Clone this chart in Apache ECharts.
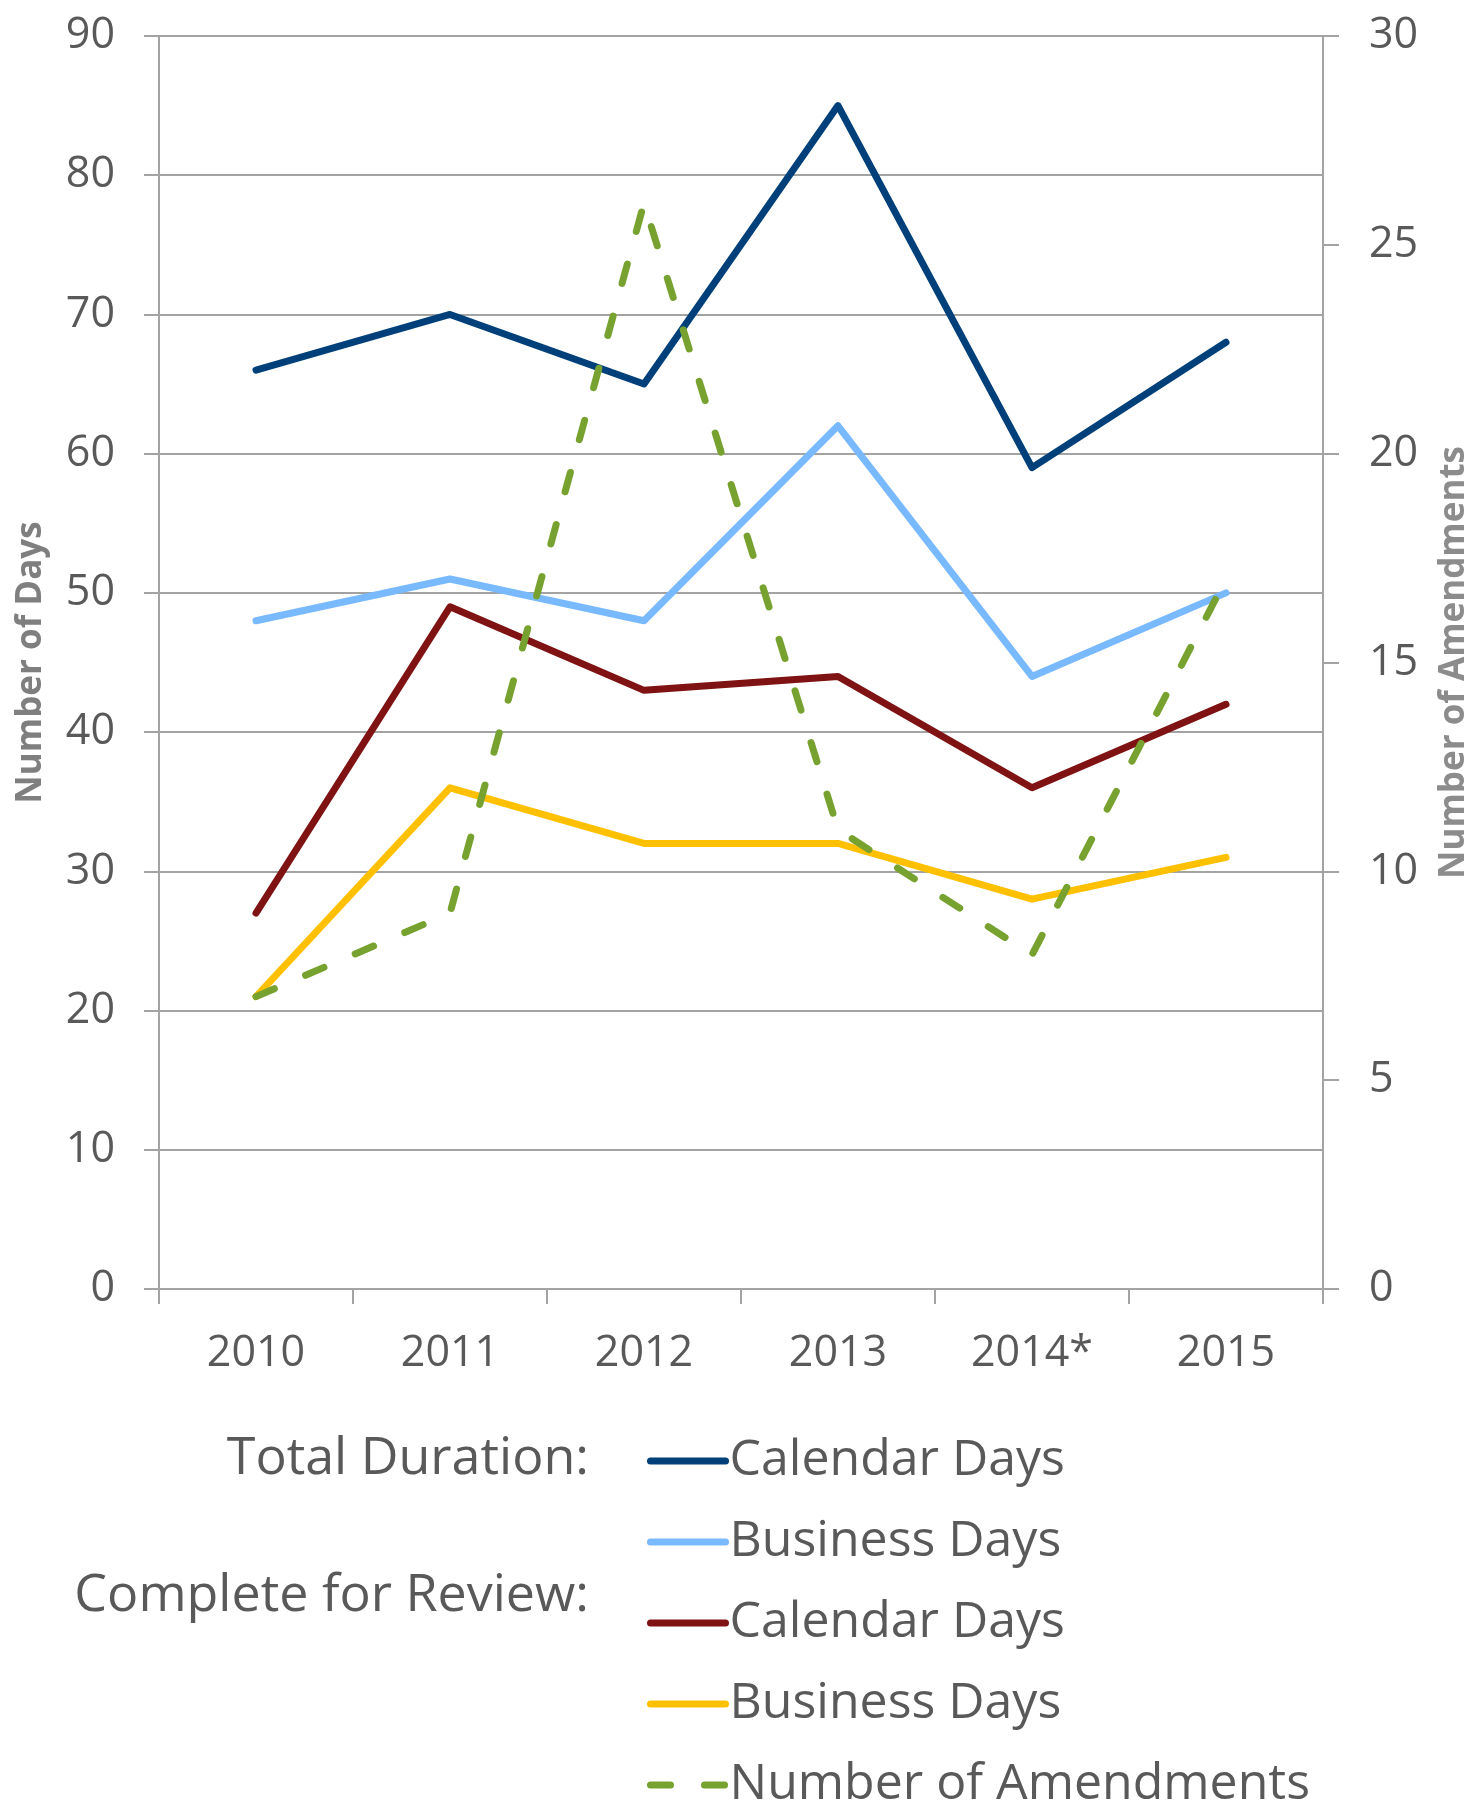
<!DOCTYPE html>
<head>
    <meta charset="utf-8"/>
    <style>
        html,body { height:100%; width:100%; margin:0; padding:0; background:#fff; }
    </style>
</head>
<body>

<div id="line" style="width: 1476px;height:1804px;"></div>

<script src="https://cdn.jsdelivr.net/npm/echarts@6/dist/echarts.min.js"></script>
<script type="text/javascript">

// data
var years = ['2010', '2011', '2012', '2013', '2014*', '2015'];
var totalCalendar = [66, 70, 65, 85, 59, 68];
var totalBusiness = [48, 51, 48, 62, 44, 50];
var reviewCalendar = [27, 49, 43, 44, 36, 42];
var reviewBusiness = [21, 36, 32, 32, 28, 31];
var amendments = [7, 9, 26, 11, 8, 17];

// series keys + the text shown in the legend
var seriesNames = ['tdCal', 'tdBus', 'crCal', 'crBus', 'amend'];
var legendLabels = ['Calendar Days', 'Business Days', 'Calendar Days', 'Business Days', 'Number of Amendments'];
var groupLabels = ['Total Duration:', 'Complete for Review:'];

var colors = ['#00407a', '#78b9ff', '#7f1212', '#ffc000', '#77a22f'];

var font = '"Open Sans", sans-serif';
var gridColor = '#a3a3a3';
var labelColor = '#595959';

function mkLine(i, data, axisIdx, dashed) {
    return {
        name: seriesNames[i],
        type: 'line',
        yAxisIndex: axisIdx,
        data: data,
        symbol: 'none',
        lineStyle: {
            color: colors[i],
            width: 7,
            cap: 'round',
            join: 'round',
            type: dashed ? [20, 34] : 'solid'
        },
        itemStyle: { color: colors[i] }
    };
}

// one legend per row so the last one is not wrapped into a second column
function mkLegend(i) {
    return {
        orient: 'vertical',
        left: 642,
        top: 1426 + i * 81,
        itemWidth: 75,
        itemHeight: 20,
        selectedMode: false,
        data: [seriesNames[i]],
        itemStyle: { opacity: 0 },
        lineStyle: { width: 7, cap: 'round' },
        formatter: function (name) {
            return legendLabels[seriesNames.indexOf(name)];
        },
        textStyle: {
            fontFamily: font,
            fontSize: 50,
            lineHeight: 60,
            color: labelColor,
            padding: [0, 0, 0, -1]
        }
    };
}

var chart = echarts.init(document.getElementById('line'));

var options = {
    animation: false,
    textStyle: { fontFamily: font },
    grid: {
        left: 159,
        right: 153,
        top: 36,
        bottom: 515,
        outerBoundsMode: 'none'
    },
    legend: [0, 1, 2, 3, 4].map(mkLegend),
    graphic: [
        {
            type: 'text', right: 1476 - 589, top: 1433,
            style: { text: groupLabels[0], font: '52px ' + font, fill: labelColor, textAlign: 'right' }
        },
        {
            type: 'text', right: 1476 - 589, top: 1570,
            style: { text: groupLabels[1], font: '52px ' + font, fill: labelColor, textAlign: 'right' }
        }
    ],
    xAxis: {
        type: 'category',
        data: years,
        boundaryGap: true,
        axisLine: { lineStyle: { color: gridColor, width: 2 } },
        axisTick: { show: true, length: 15, lineStyle: { color: gridColor, width: 2 } },
        axisLabel: { fontSize: 43, color: labelColor, margin: 43, fontFamily: font }
    },
    yAxis: [
        {
            type: 'value',
            min: 0, max: 90, interval: 10,
            name: 'Number of Days',
            nameLocation: 'middle',
            nameGap: 110,
            nameTextStyle: { fontSize: 35, fontWeight: 'bold', color: '#7f7f7f', fontFamily: font },
            axisLine: { show: true, lineStyle: { color: gridColor, width: 2 } },
            axisTick: { show: true, length: 15, lineStyle: { color: gridColor, width: 2 } },
            splitLine: { show: true, lineStyle: { color: gridColor, width: 2 } },
            axisLabel: { fontSize: 43, color: labelColor, margin: 44, fontFamily: font }
        },
        {
            type: 'value',
            min: 0, max: 30, interval: 5,
            name: 'Number of Amendments',
            nameLocation: 'middle',
            nameGap: 114,
            nameTextStyle: { fontSize: 35, fontWeight: 'bold', color: '#8c8c8c', fontFamily: font },
            axisLine: { show: true, lineStyle: { color: gridColor, width: 2 } },
            axisTick: { show: true, length: 16, lineStyle: { color: gridColor, width: 2 } },
            splitLine: { show: false },
            axisLabel: { fontSize: 43, color: labelColor, margin: 46, fontFamily: font }
        }
    ],
    series: [
        mkLine(0, totalCalendar, 0, false),
        mkLine(1, totalBusiness, 0, false),
        mkLine(2, reviewCalendar, 0, false),
        mkLine(3, reviewBusiness, 0, false),
        mkLine(4, amendments, 1, true)
    ]
};

chart.setOption(options);

</script>
</body>
